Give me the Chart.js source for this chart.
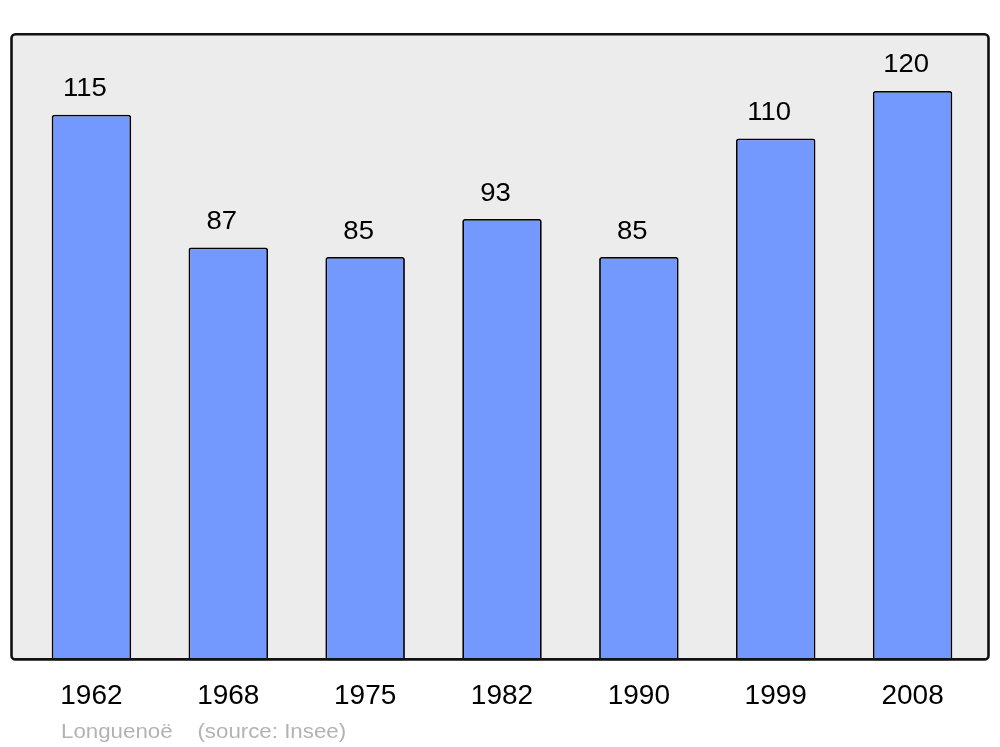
<!DOCTYPE html>
<html>
<head>
<meta charset="utf-8">
<script src="https://cdn.jsdelivr.net/npm/chart.js@4.4.1/dist/chart.umd.min.js"></script>
<style>
  html, body { margin: 0; padding: 0; background: #ffffff; }
  #wrap { width: 1000px; height: 747px; position: relative; }
</style>
</head>
<body>
<div id="wrap"><canvas id="c" width="1000" height="747"></canvas></div>
<script>
const years = ['1962', '1968', '1975', '1982', '1990', '1999', '2008'];
const population = [115, 87, 85, 93, 85, 110, 120];
const yMax = 132;
const caption = 'Longuenoë    (source: Insee)';

const framePlugin = {
  id: 'frame',
  beforeDatasetsDraw(chart) {
    const ctx = chart.ctx, a = chart.chartArea;
    const l = a.left - 11.5, r = a.right + 7.5, t = a.top + 0.3, b = a.bottom - 1;
    ctx.save();
    ctx.beginPath();
    ctx.roundRect(l, t, r - l, b - t, 4);
    ctx.fillStyle = '#ececec';
    ctx.fill();
    ctx.restore();
  },
  afterDatasetsDraw(chart) {
    const ctx = chart.ctx, a = chart.chartArea;
    const l = a.left - 11.5, r = a.right + 7.5, t = a.top + 0.3, b = a.bottom - 1;
    ctx.save();
    ctx.beginPath();
    ctx.roundRect(l, t, r - l, b - t, 4);
    ctx.lineWidth = 2.6;
    ctx.strokeStyle = '#111111';
    ctx.stroke();
    ctx.restore();
  },
  afterDraw(chart) {
    const ctx = chart.ctx;
    const meta = chart.getDatasetMeta(0);
    ctx.save();
    ctx.fillStyle = '#000000';
    ctx.font = '25px "Liberation Sans", Arial, sans-serif';
    ctx.textAlign = 'center';
    ctx.textBaseline = 'alphabetic';
    meta.data.forEach((bar, i) => {
      ctx.save();
      ctx.translate(bar.x - 6.5, bar.y - 18.5);
      ctx.scale(1.1, 1);
      ctx.fillText(String(population[i]), 0, 0);
      ctx.restore();
    });
    ctx.fillStyle = '#b3b3b3';
    ctx.font = '20px "Liberation Sans", Arial, sans-serif';
    ctx.textAlign = 'left';
    ctx.save();
    ctx.translate(61, 737.5);
    ctx.scale(1.115, 1);
    ctx.fillText(caption, 0, 0);
    ctx.restore();
    ctx.restore();
  }
};

new Chart(document.getElementById('c'), {
  type: 'bar',
  data: {
    labels: years,
    datasets: [{
      data: population,
      backgroundColor: '#7399ff',
      borderColor: '#000000',
      borderWidth: 1.8,
      borderRadius: 2.5,
      borderSkipped: false,
      barPercentage: 0.581,
      categoryPercentage: 1
    }]
  },
  options: {
    responsive: false,
    animation: false,
    devicePixelRatio: 1,
    layout: { padding: { left: 23, right: 19, top: 34, bottom: 15 } },
    plugins: { legend: { display: false }, tooltip: { enabled: false }, title: { display: false } },
    scales: {
      x: {
        grid: { display: false, drawTicks: false },
        border: { display: false },
        ticks: {
          color: '#000000',
          padding: 19,
          font: { family: '"Liberation Sans", Arial, sans-serif', size: 28 }
        }
      },
      y: {
        display: false,
        min: 0,
        max: yMax
      }
    }
  },
  plugins: [framePlugin]
});
</script>
</body>
</html>
